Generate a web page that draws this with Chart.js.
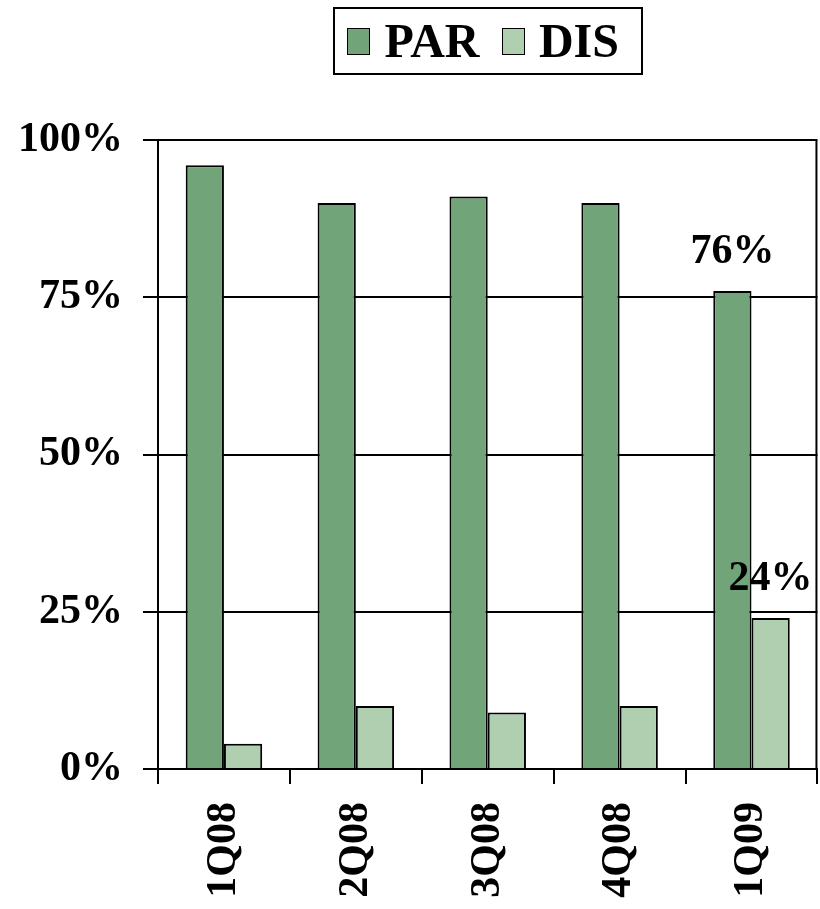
<!DOCTYPE html>
<html>
<head>
<meta charset="utf-8">
<script src="https://cdn.jsdelivr.net/npm/chart.js@4/dist/chart.umd.min.js"></script>
<style>
  html, body { margin: 0; padding: 0; background: #fff; }
  #wrap { width: 820px; height: 909px; position: relative; }
  #legend {
    position: absolute; left: 333px; top: 7px;
    width: 310px; height: 68px; box-sizing: border-box;
    border: 2px solid #000;
    display: flex; align-items: center;
    padding-left: 12px;
    font: bold 48px 'Liberation Serif', 'Times New Roman', serif;
    line-height: 1; color: #000;
  }
  #legend .sw {
    width: 27px; height: 27px; box-sizing: border-box;
    border: 1.5px solid #000; margin-right: 14px;
  }
  #legend .txt { margin-right: 22px; }
</style>
</head>
<body>
<div id="wrap">
  <canvas id="bars" width="820" height="909"></canvas>
  <div id="legend"></div>
</div>
<script>
var quarters = ["1Q08", "2Q08", "3Q08", "4Q08", "1Q09"];
var parValues = [96, 90, 91, 90, 76];
var disValues = [4, 10, 9, 10, 24];
var parLabels = [null, null, null, null, "76%"];
var disLabels = [null, null, null, null, "24%"];
var yTicks = [0, 25, 50, 75, 100];

var serif = "'Liberation Serif', 'Times New Roman', serif";

// right edge of the plot
var frame = {
  id: 'frame',
  afterDraw: function (chart) {
    var ctx = chart.ctx;
    var a = chart.chartArea;
    ctx.save();
    ctx.strokeStyle = '#000';
    ctx.lineWidth = 2;
    ctx.beginPath();
    ctx.moveTo(a.right - 1, a.top);
    ctx.lineTo(a.right - 1, a.bottom);
    ctx.stroke();
    ctx.restore();
  }
};

// value labels over the last bars
var valueLabels = {
  id: 'valueLabels',
  afterDatasetsDraw: function (chart) {
    var ctx = chart.ctx;
    var lists = [parLabels, disLabels];
    ctx.save();
    ctx.font = 'bold 42px ' + serif;
    ctx.fillStyle = '#000';
    ctx.textAlign = 'center';
    ctx.textBaseline = 'alphabetic';
    lists.forEach(function (labels, di) {
      var meta = chart.getDatasetMeta(di);
      labels.forEach(function (txt, i) {
        if (!txt) return;
        var bar = meta.data[i];
        ctx.fillText(txt, bar.x, bar.y - 28);
      });
    });
    ctx.restore();
  }
};

var chart = new Chart(document.getElementById('bars'), {
  type: 'bar',
  data: {
    labels: quarters,
    datasets: [
      {
        label: 'PAR',
        data: parValues,
        backgroundColor: '#72a479',
        borderColor: '#000',
        borderWidth: 2
      },
      {
        label: 'DIS',
        data: disValues,
        backgroundColor: '#b0cfb0',
        borderColor: '#000',
        borderWidth: 2
      }
    ]
  },
  options: {
    responsive: false,
    animation: false,
    devicePixelRatio: 1,
    layout: { padding: { top: 140, right: 1, bottom: 0, left: 0 } },
    datasets: {
      bar: { categoryPercentage: 0.58, barPercentage: 1 }
    },
    plugins: {
      title: { display: false },
      tooltip: { enabled: false },
      legend: { display: false }
    },
    scales: {
      x: {
        afterFit: function (scale) { scale.height = 140; },
        grid: {
          offset: true,
          drawOnChartArea: false,
          drawTicks: true,
          tickLength: 15,
          color: '#000',
          lineWidth: 2
        },
        border: { color: '#000', width: 2 },
        ticks: {
          minRotation: 90,
          maxRotation: 90,
          padding: 18,
          color: '#000',
          font: { family: serif, size: 42, weight: 'bold' }
        }
      },
      y: {
        min: 0,
        max: 100,
        afterBuildTicks: function (scale) {
          scale.ticks = yTicks.map(function (v) { return { value: v }; });
        },
        afterFit: function (scale) { scale.width = 158; },
        grid: {
          color: '#000',
          lineWidth: 2,
          tickLength: 15
        },
        border: { color: '#000', width: 2 },
        ticks: {
          padding: 20,
          color: '#000',
          font: { family: serif, size: 42, weight: 'bold' },
          callback: function (v) { return v + '%'; }
        }
      }
    }
  },
  plugins: [frame, valueLabels]
});

// legend built from the datasets
var legend = document.getElementById('legend');
chart.data.datasets.forEach(function (ds) {
  var sw = document.createElement('span');
  sw.className = 'sw';
  sw.style.background = ds.backgroundColor;
  var txt = document.createElement('span');
  txt.className = 'txt';
  txt.textContent = ds.label;
  legend.appendChild(sw);
  legend.appendChild(txt);
});
</script>
</body>
</html>
